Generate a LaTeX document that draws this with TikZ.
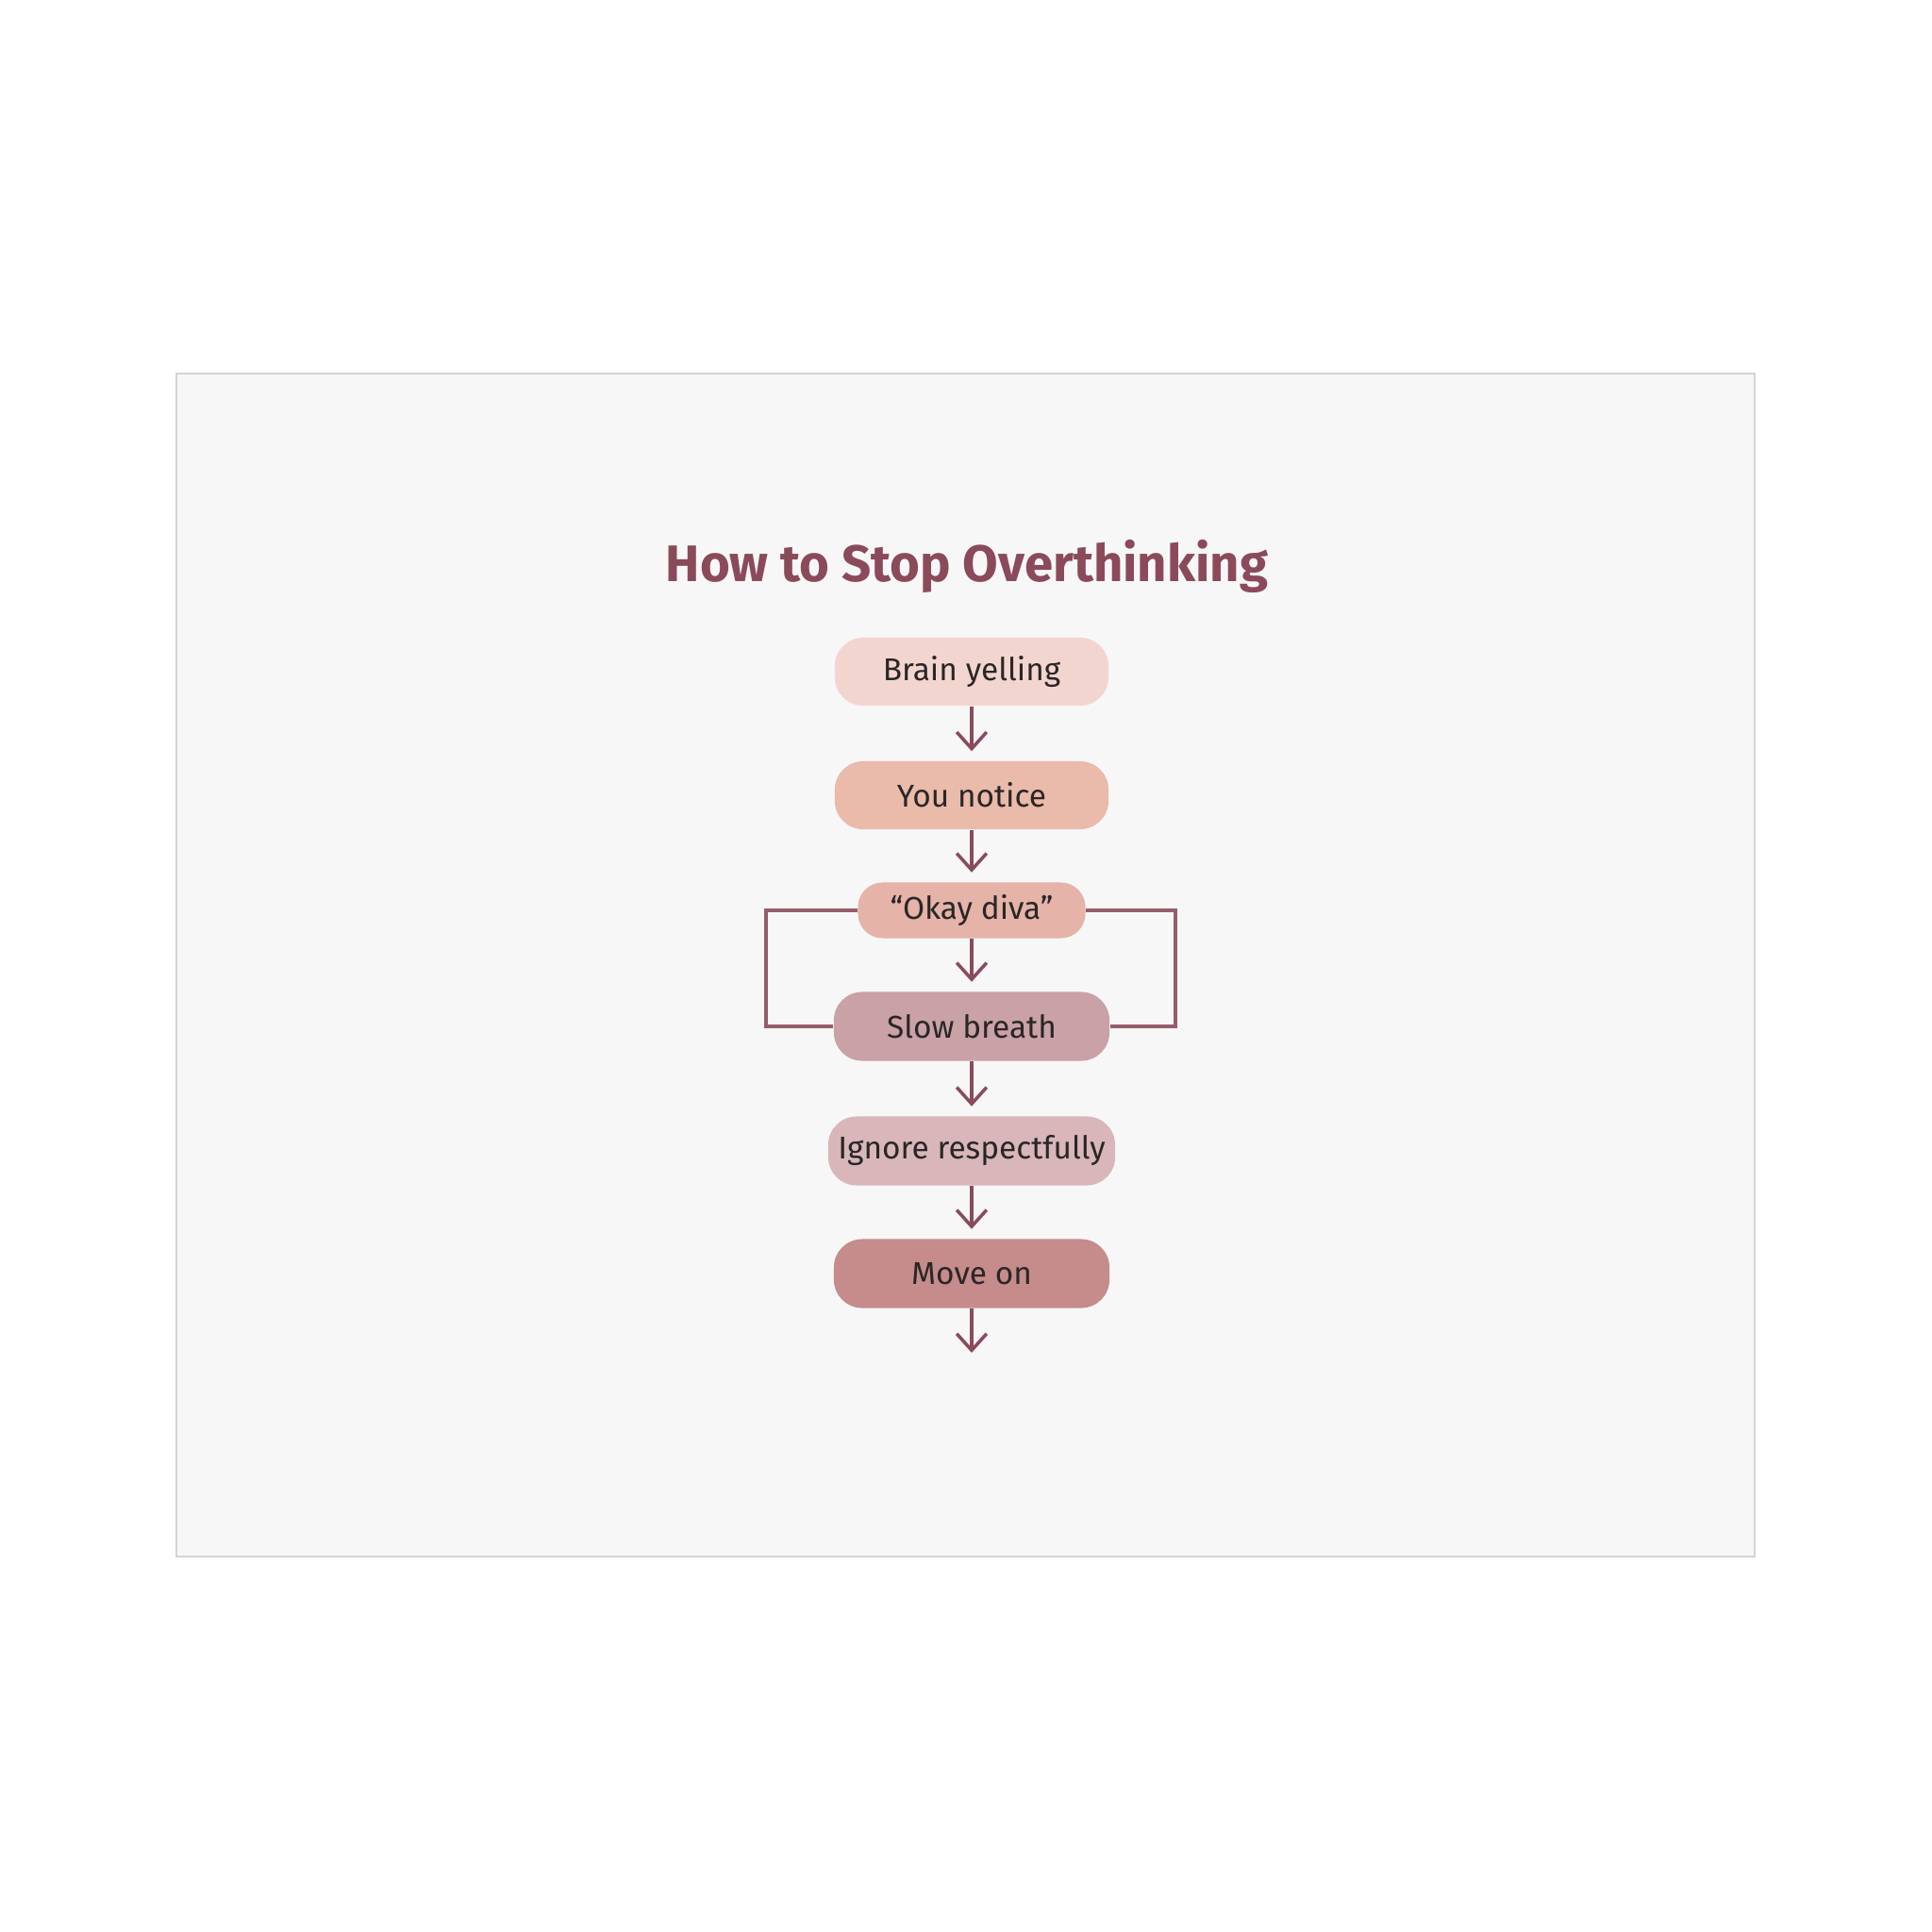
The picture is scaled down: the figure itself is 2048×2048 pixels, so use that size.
\documentclass[tikz,border=0pt]{standalone}
\usepackage{fontspec}
\setmainfont{Fira Sans}
\usetikzlibrary{arrows.meta}
\definecolor{arrowc}{HTML}{8A4B5B}
\definecolor{titlec}{HTML}{8B4A5A}
\definecolor{framec}{HTML}{D4D4D4}
\definecolor{panelc}{HTML}{F7F7F7}
\definecolor{txtc}{HTML}{2A2626}
\definecolor{cA}{HTML}{F3D5D0}
\definecolor{cB}{HTML}{EABAAA}
\definecolor{cC}{HTML}{E5B3A8}
\definecolor{cD}{HTML}{C9A1A7}
\definecolor{cE}{HTML}{D8B6BA}
\definecolor{cF}{HTML}{C68B8B}
\tikzset{
  stepbox/.style={rounded corners=0.3cm, minimum width=2.9cm, minimum height=0.72cm,
    inner sep=0pt, text=txtc, font=\fontsize{9.5}{11}\selectfont},
  flow/.style={draw=arrowc, line width=1pt, shorten >=0.1cm,
    -{Straight Barb[length=5pt,width=9pt,line width=1pt]}},
  loopline/.style={draw=arrowc!90!white, line width=0.95pt}
}
\begin{document}
\begin{tikzpicture}[x=0.01cm,y=-0.01cm]
\fill[white] (0,0) rectangle (2048,2048);
\useasboundingbox (0,0) rectangle (2048,2048);
\draw[draw=framec, fill=panelc, line width=0.6pt] (187,396) rectangle (1860,1650);
\node[text=titlec, font=\fontsize{15.5}{18}\selectfont\bfseries] (title) at (1025,600) {How to Stop Overthinking};
\node[stepbox, fill=cA] (brain) at (1030,712) {Brain yelling};
\node[stepbox, fill=cB] (notice) at (1030,843) {You notice};
\node[stepbox, fill=cC, minimum width=2.41cm, minimum height=0.59cm, rounded corners=0.26cm] (diva) at (1030,965) {“Okay diva”};
\node[stepbox, fill=cD, minimum width=2.92cm, minimum height=0.73cm] (breath) at (1030,1088) {Slow breath};
\node[stepbox, fill=cE, minimum width=3.04cm, minimum height=0.73cm] (ignore) at (1030,1220) {Ignore respectfully};
\node[stepbox, fill=cF, minimum width=2.92cm, minimum height=0.73cm] (moveon) at (1030,1350) {Move on};
\coordinate (endpt) at (1030,1444);
\coordinate (lt) at (812,965);
\coordinate (rt) at (1246,965);
\draw[flow] (brain) -- (notice);
\draw[flow] (notice) -- (diva);
\draw[flow] (diva) -- (breath);
\draw[flow] (breath) -- (ignore);
\draw[flow] (ignore) -- (moveon);
\draw[flow] (moveon) -- (endpt);
\draw[loopline] (diva.west) -- (lt) |- (breath.west);
\draw[loopline] (diva.east) -- (rt) |- (breath.east);
\end{tikzpicture}
\end{document}
